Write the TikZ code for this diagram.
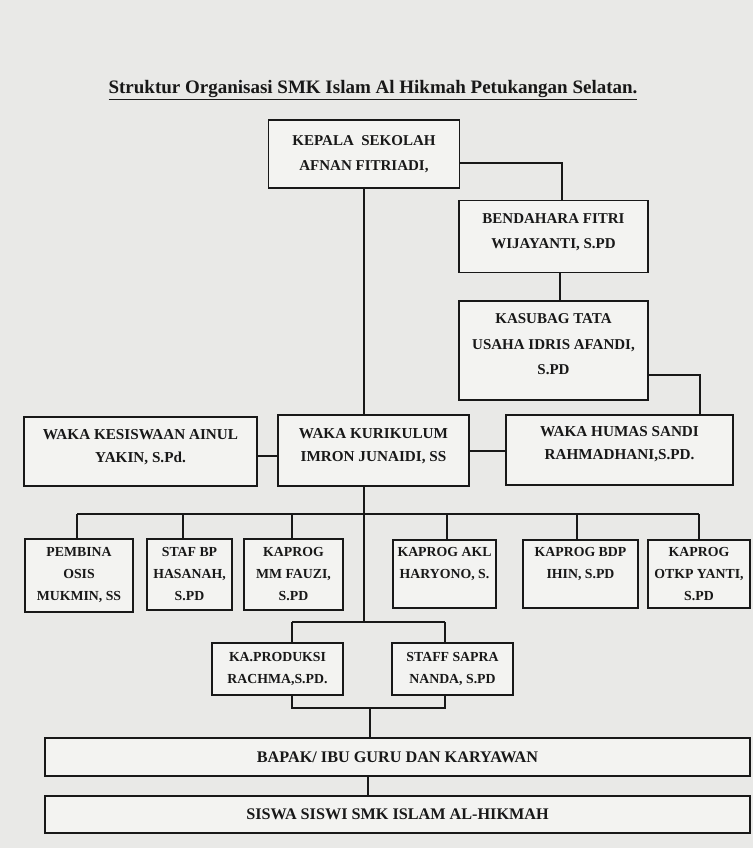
\documentclass[tikz,border=0pt]{standalone}
\usepackage{fontspec}
\setmainfont{Liberation Serif}
\definecolor{paper}{RGB}{233,233,231}
\definecolor{boxfill}{RGB}{243,243,241}
\definecolor{ink}{RGB}{24,24,24}
\begin{document}
\begin{tikzpicture}[x=1pt,y=-1pt,
  box/.style={draw=ink, line width=1.5pt, fill=boxfill, inner sep=0pt, align=center, text=ink,
              font=\bfseries\fontsize{15}{25.5}\selectfont},
  midrow/.style={font=\bfseries\fontsize{15.2}{23}\selectfont},
  small/.style={font=\bfseries\fontsize{13.8}{22}\selectfont},
  wide/.style={font=\bfseries\fontsize{16.2}{18}\selectfont},
  wire/.style={draw=ink, line width=1.3pt}]
\fill[paper] (0,0) rectangle (753,848);
\useasboundingbox (0,0) rectangle (753,848);

% title
\node[font=\bfseries\fontsize{19}{21}\selectfont, text=ink, anchor=base, inner sep=0pt] (title) at (373,94)
  {\underline{Struktur Organisasi SMK Islam Al Hikmah Petukangan Selatan.}};

% top chain
\node[box, minimum width=191pt, minimum height=68pt] (kepala) at (364,154) {KEPALA\ \ SEKOLAH\\AFNAN FITRIADI,};
\node[box, minimum width=189pt, minimum height=72pt] (bend) at (553.5,236.5) {BENDAHARA FITRI\\WIJAYANTI, S.PD\\[-15pt]\mbox{}};
\node[box, minimum width=189pt, minimum height=99pt] (kas) at (553.5,350.5) {KASUBAG TATA\\USAHA IDRIS AFANDI,\\S.PD\\[-13pt]\mbox{}};

% waka row
\node[box, midrow, minimum width=233pt, minimum height=69pt] (kes) at (140.5,451.5) {WAKA KESISWAAN AINUL\\YAKIN, S.Pd.\\[-11pt]\mbox{}};
\node[box, midrow, minimum width=191pt, minimum height=71pt] (kur) at (373.5,450.5) {WAKA KURIKULUM\\IMRON JUNAIDI, SS\\[-11pt]\mbox{}};
\node[box, midrow, minimum width=227pt, minimum height=70pt] (hum) at (619.5,450) {WAKA HUMAS SANDI\\RAHMADHANI,S.PD.\\[-9pt]\mbox{}};

% kaprog row
\node[box, small, minimum width=108pt, minimum height=73pt] (pem) at (79,575.5) {PEMBINA\\OSIS\\MUKMIN, SS};
\node[box, small, minimum width=85pt, minimum height=71pt] (bp) at (189.5,574.5) {STAF BP\\HASANAH,\\S.PD};
\node[box, small, minimum width=99pt, minimum height=71pt] (mm) at (293.5,574.5) {KAPROG\\MM FAUZI,\\S.PD};
\node[box, small, minimum width=103pt, minimum height=68pt] (akl) at (444.5,574) {KAPROG AKL\\HARYONO, S.\\\mbox{}};
\node[box, small, minimum width=115pt, minimum height=68pt] (bdp) at (580.5,574) {KAPROG BDP\\IHIN, S.PD\\\mbox{}};
\node[box, small, minimum width=102pt, minimum height=68pt] (otkp) at (699,574) {KAPROG\\OTKP YANTI,\\S.PD};

% produksi row
\node[box, small, minimum width=131pt, minimum height=52pt] (prod) at (277.5,669) {KA.PRODUKSI\\RACHMA,S.PD.};
\node[box, small, minimum width=121pt, minimum height=52pt] (sapra) at (452.5,669) {STAFF SAPRA\\NANDA, S.PD};

% bottom rows
\node[box, wide, minimum width=705pt, minimum height=38pt] (bapak) at (397.5,757) {BAPAK/ IBU GURU DAN KARYAWAN};
\node[box, wide, minimum width=705pt, minimum height=37pt] (siswa) at (397.5,814.5) {SISWA SISWI SMK ISLAM AL-HIKMAH};

% connectors
\draw[wire] (kepala.east |- 0,163) -| (bend.north -| 562,0);
\draw[wire] (bend.south -| 560,0) -- (kas.north -| 560,0);
\draw[wire] (kepala.south) -- (kepala.south |- kur.north);
\draw[wire] (kas.east |- 0,375) -| (hum.north -| 700,0);
\draw[wire] (kes.east |- 0,456) -- (kur.west |- 0,456);
\draw[wire] (kur.east |- 0,451) -- (hum.west |- 0,451);

\coordinate (j2) at (364,622);
\coordinate (busL) at (77,514);
\coordinate (busR) at (699,514);
\draw[wire] (kur.south -| j2) -- (j2);
\draw[wire] (busL) -- (busR);
\coordinate (d2) at (183,514);
\coordinate (d3) at (292,514);
\coordinate (d4) at (447,514);
\coordinate (d5) at (577,514);
\draw[wire] (pem.north -| busL) -- (busL);
\draw[wire] (bp.north -| d2) -- (d2);
\draw[wire] (mm.north -| d3) -- (d3);
\draw[wire] (akl.north -| d4) -- (d4);
\draw[wire] (bdp.north -| d5) -- (d5);
\draw[wire] (otkp.north -| busR) -- (busR);

\coordinate (pL) at (292,622);
\coordinate (pR) at (445,622);
\draw[wire] (pL) -- (pR);
\draw[wire] (prod.north -| pL) -- (pL);
\draw[wire] (sapra.north -| pR) -- (pR);
\coordinate (qL) at (292,708);
\coordinate (qR) at (445,708);
\coordinate (q) at (370,708);
\draw[wire] (prod.south -| qL) -- (qL) -- (qR) -- (sapra.south -| qR);
\draw[wire] (q) -- (bapak.north -| q);
\draw[wire] (bapak.south -| 368,0) -- (siswa.north -| 368,0);
\end{tikzpicture}
\end{document}
